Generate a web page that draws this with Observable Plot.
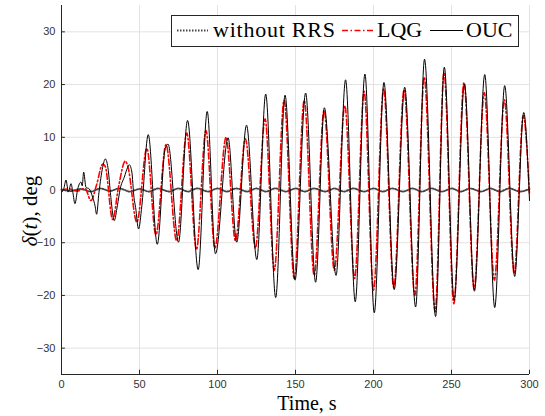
<!DOCTYPE html>
<html>
<head>
<meta charset="utf-8">
<script src="https://cdn.jsdelivr.net/npm/d3@7"></script>
<script src="https://cdn.jsdelivr.net/npm/@observablehq/plot@0.6"></script>
<style>
  html, body { margin: 0; padding: 0; background: #fff; }
</style>
</head>
<body>
<div id="chart"></div>
<script>
// ---- Data ----
const xTicks = [0, 50, 100, 150, 200, 250, 300];
const yTicks = [-30, -20, -10, 0, 10, 20, 30];

const seriesNames = ["without RRS", "LQG", "OUC"];

const noRrsT = [0,6,12,19,25,31,37,44,50,56,62,69,75,81,87,94,100,106,112,119,125,131,137,144,150,156,162,169,175,181,187,194,200,206,212,219,225,231,237,244,250,256,262,269,275,281,287,294,300];
const noRrsV = [0.1,-0.2,0.2,-0.3,0.3,-0.2,0.3,-0.3,0.2,-0.3,0.3,-0.3,0.3,-0.3,0.3,-0.3,0.3,-0.3,0.3,-0.3,0.3,-0.3,0.3,-0.3,0.3,-0.3,0.3,-0.3,0.3,-0.3,0.3,-0.3,0.3,-0.3,0.3,-0.3,0.3,-0.3,0.3,-0.3,0.3,-0.3,0.3,-0.3,0.3,-0.3,0.3,-0.3,0.2];

const lqgT = [0,5,10,15,18.9,22.5,26.4,28,32.8,36.5,40.9,42.5,48.3,54.7,60.5,67.0,73.8,80.3,86.5,92.6,98.3,105.5,111.5,117.9,124.3,130.5,136.4,142.7,149.2,155.6,162.0,168.3,174.9,181.6,187.9,194.0,200.0,206.5,213.0,219.6,226.5,232.5,239.5,245.2,251.5,258.0,264.5,271.0,277.5,283.9,290.2,296.0,300];
const lqgV = [0,0.2,-0.2,0.3,-2.0,1.0,4.9,4.5,-5.6,0.5,5.5,4.5,-6.1,7.9,-8.5,8.6,-9.6,10.8,-11.3,11.3,-11.0,10.0,-9.6,9.7,-11.0,13.5,-15.2,17.0,-16.8,17.0,-16.2,15.1,-15.2,16.0,-16.8,18.7,-19.0,19.2,-18.5,19.0,-20.0,21.4,-23.1,22.3,-21.6,20.4,-18.8,18.5,-17.1,17.1,-15.8,14.1,-1.0];

const oucT = [0,1.5,2.9,4.4,6.1,7.3,8.6,10.4,12.5,13.3,14.2,15.7,17.8,20.0,21.5,22.5,24.0,26.4,28.1,30.0,31.5,33.8,35.8,37.6,40.2,42.4,43.4,45.0,46.5,47.5,49.4,51.5,55.6,61.4,66.5,68.3,75.0,80.8,87.6,93.4,98.7,106.8,112.3,118.6,125.2,130.9,137.3,143.3,149.7,156.5,162.9,168.5,176.0,182.1,188.3,194.5,200.5,206.7,213.3,220.0,227.0,232.7,239.8,245.4,251.7,258.3,264.7,271.3,277.7,284.1,290.5,296.3,300];
const oucV = [-0.5,0.3,1.9,-0.4,1.2,-0.5,-2.6,0.2,1.5,0.8,3.4,0.5,0.2,-1.4,-3.0,-4.6,-0.5,4.3,5.9,3.7,-1.0,-5.8,-3.0,0.2,2.4,4.3,4.8,3.6,-1.5,-3.3,-7.4,-3.0,10.5,-10.3,7.9,8.7,-9.9,13.2,-15.1,14.9,-12.1,9.9,-9.9,12.3,-13.2,18.2,-20.4,18.0,-17.1,18.4,-17.5,15.6,-16.2,20.9,-21.2,22.0,-23.3,20.4,-18.9,19.5,-22.2,24.8,-24.0,23.3,-20.9,20.1,-19.2,21.9,-22.3,19.8,-16.4,14.7,-2.0];

// ---- Build tables ----
const noRrs = noRrsT.map((t, i) => ({t, v: noRrsV[i]}));
const lqg = lqgT.map((t, i) => ({t, v: lqgV[i]}));
const ouc = oucT.map((t, i) => ({t, v: oucV[i]}));

const axisColor = "#262626";
const gridColor = "#e2e2e2";
const serif = "'Liberation Serif', 'Times New Roman', serif";
const dotColor = "#444";
const dotDash = "1.5,1.5";

const chart = Plot.plot({
  width: 545,
  height: 416,
  marginLeft: 61,
  marginRight: 16,
  marginTop: 5,
  marginBottom: 42,
  style: {fontFamily: "'Liberation Sans', Arial, sans-serif", fontSize: "11px", color: "#333", background: "#fff"},
  x: {domain: [0, 300], label: null},
  y: {domain: [-35, 35], label: null},
  marks: [
    Plot.gridX(xTicks, {stroke: gridColor, strokeOpacity: 1, strokeWidth: 1}),
    Plot.gridY(yTicks, {stroke: gridColor, strokeOpacity: 1, strokeWidth: 1}),
    Plot.line(noRrs, {x: "t", y: "v", stroke: dotColor, strokeWidth: 1.8, strokeDasharray: dotDash, curve: "monotone-x"}),
    Plot.line(lqg, {x: "t", y: "v", stroke: "#ff0000", strokeWidth: 1.6, strokeDasharray: "6,2.5,1.5,2.5", curve: "monotone-x"}),
    Plot.line(ouc, {x: "t", y: "v", stroke: "#000", strokeWidth: 1, curve: "monotone-x"}),
    // inward ticks
    Plot.ruleX(xTicks, {y1: -35, y2: -34.2, stroke: axisColor}),
    Plot.ruleY(yTicks, {x1: 0, x2: 2.5, stroke: axisColor}),
    // axis lines (left and bottom)
    Plot.ruleX([0], {stroke: axisColor}),
    Plot.ruleY([-35], {stroke: axisColor}),
    Plot.axisX(xTicks, {tickSize: 0, tickPadding: 6, label: null}),
    Plot.axisY(yTicks, {tickSize: 0, tickPadding: 6, label: null})
  ]
});

document.getElementById("chart").appendChild(chart);

// ---- Axis titles and legend (static layout) ----
const svg = d3.select(chart);

svg.append("text")
  .attr("x", 307).attr("y", 410)
  .attr("text-anchor", "middle")
  .attr("font-family", serif).attr("font-size", 20).attr("fill", "#000")
  .text("Time, s");

const yl = svg.append("text")
  .attr("transform", "translate(37,211) rotate(-90)")
  .attr("text-anchor", "middle")
  .attr("font-family", serif).attr("font-size", 21).attr("fill", "#000");
yl.append("tspan").attr("font-style", "italic").text("δ");
yl.append("tspan").text("(");
yl.append("tspan").attr("font-style", "italic").text("t");
yl.append("tspan").text("), deg");

const lg = svg.append("g");
lg.append("rect")
  .attr("x", 171.5).attr("y", 15.5).attr("width", 347).attr("height", 31)
  .attr("fill", "#fff").attr("stroke", axisColor).attr("stroke-width", 1);

const legendItems = [
  {name: seriesNames[0], x1: 177, x2: 208, tx: 213, stroke: dotColor, w: 1.8, dash: dotDash, len: 122},
  {name: seriesNames[1], x1: 342, x2: 373, tx: 377, stroke: "#ff0000", w: 1.6, dash: "6,2.5,1.5,2.5", len: null},
  {name: seriesNames[2], x1: 430, x2: 463, tx: 466, stroke: "#000", w: 1, dash: null, len: null}
];
for (const it of legendItems) {
  const l = lg.append("line")
    .attr("x1", it.x1).attr("x2", it.x2).attr("y1", 30.5).attr("y2", 30.5)
    .attr("stroke", it.stroke).attr("stroke-width", it.w);
  if (it.dash) l.attr("stroke-dasharray", it.dash);
  const t = lg.append("text")
    .attr("x", it.tx).attr("y", 36.5)
    .attr("text-anchor", "start")
    .attr("font-family", serif).attr("font-size", 22).attr("fill", "#000")
    .text(it.name);
  if (it.len) t.attr("textLength", it.len).attr("lengthAdjust", "spacing");
}
</script>
</body>
</html>
